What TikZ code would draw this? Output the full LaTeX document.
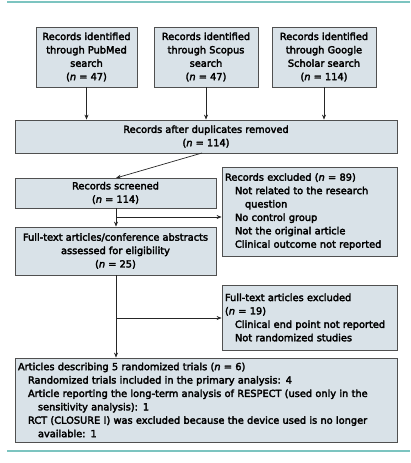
\documentclass[tikz,border=0pt]{standalone}
\usepackage{fontspec}
\setmainfont{DejaVu Sans}[UprightFeatures={FakeBold=3}, ItalicFeatures={FakeBold=3}]
\usetikzlibrary{arrows.meta}
\definecolor{boxfill}{HTML}{D9E2E8}
\definecolor{boxline}{HTML}{505050}
\definecolor{teal}{HTML}{7CC4C0}
\newcommand{\nn}{\textit{n}}
\begin{document}
\begin{tikzpicture}[x=1pt,y=-1pt,
  bx/.style={draw=boxline, fill=boxfill, line width=0.8pt, inner sep=4pt,
    font=\fontsize{9.8}{13.4}\selectfont, text=black},
  cbx/.style={bx, align=center},
  lbx/.style={bx, align=left},
  arr/.style={-{Stealth[length=5pt,width=4pt]}, line width=0.7pt, draw=black!85},
  ln/.style={line width=0.7pt, draw=black!85}]
\useasboundingbox (0,0) rectangle (410,463);
\draw[teal, line width=1.6pt] (7,2) -- (410,2);
\draw[teal, line width=1.6pt] (7,451) -- (410,451);

\node[cbx, minimum width=101pt, minimum height=60pt] (b1) at (86.5,57)
  {Records identified\\through PubMed\\search\\(\nn{} = 47)};
\node[cbx, minimum width=104pt, minimum height=60pt] (b2) at (206,57)
  {Records identified\\through Scopus\\search\\(\nn{} = 47)};
\node[cbx, minimum width=104pt, minimum height=60pt] (b3) at (324,57)
  {Records identified\\through Google\\Scholar search\\(\nn{} = 114)};
\node[cbx, minimum width=382pt, minimum height=33pt] (dup) at (206,136.5)
  {Records after duplicates removed\\(\nn{} = 114)};
\node[cbx, minimum width=201pt, minimum height=30pt] (scr) at (115.5,193)
  {Records screened\\(\nn{} = 114)};
\node[lbx, minimum height=89pt, inner sep=3pt, text width=169pt] (ex1) at (309.5,211.5)
  {Records excluded (\nn{} = 89)\\
   \hspace*{10pt}Not related to the research\\
   \hspace*{20pt}question\\
   \hspace*{10pt}No control group\\
   \hspace*{10pt}Not the original article\\
   \hspace*{10pt}Clinical outcome not reported};
\node[cbx, minimum width=201pt, minimum height=48pt] (full) at (115.5,251)
  {Full-text articles/conference abstracts\\assessed for eligibility\\(\nn{} = 25)};
\node[lbx, minimum height=65pt, inner sep=3pt, text width=169pt] (ex2) at (309.5,317.5)
  {Full-text articles excluded\\(\nn{} = 19)\\
   \hspace*{10pt}Clinical end point not reported\\
   \hspace*{10pt}Not randomized studies};
\node[lbx, text width=376pt, inner sep=3pt, minimum height=84pt] (fin) at (206,400)
  {Articles describing 5 randomized trials (\nn{} = 6)\\
   \hspace*{10pt}Randomized trials included in the primary analysis: 4\\
   \hspace*{10pt}Article reporting the long-term analysis of RESPECT (used only in the\\
   \hspace*{20pt}sensitivity analysis): 1\\
   \hspace*{10pt}RCT (CLOSURE I) was excluded because the device used is no longer\\
   \hspace*{20pt}available: 1};

\draw[arr] (b1.south) -- (b1.south |- dup.north);
\draw[arr] (b2.south) -- (b2.south |- dup.north);
\draw[arr] (b3.south) -- (b3.south |- dup.north);
\coordinate (d1) at (202,153);
\coordinate (s1) at (116,178);
\draw[arr] (d1) -- (s1);
\coordinate (sb) at (116,208);
\coordinate (j1) at (116,217);
\draw[arr] (sb) -- (sb |- full.north);
\draw[arr] (j1) -- (j1 -| ex1.west);
\coordinate (fb) at (116,275);
\coordinate (j2) at (116,318);
\draw[arr] (fb) -- (fb |- fin.north);
\draw[arr] (j2) -- (j2 -| ex2.west);
\end{tikzpicture}
\end{document}
